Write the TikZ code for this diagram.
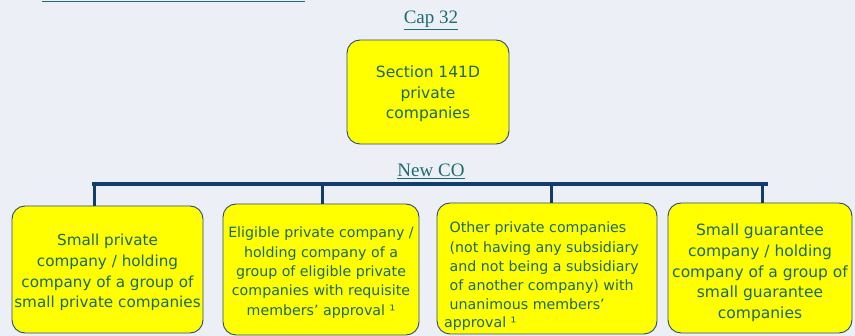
\documentclass[tikz,border=0pt]{standalone}
\usepackage{fontspec}
\setmainfont{DejaVu Sans}
\newfontfamily\serifface{Liberation Serif}
\definecolor{pagebg}{HTML}{ECF0F6}
\definecolor{boxfill}{HTML}{FFFF00}
\definecolor{boxedge}{HTML}{2B4A7A}
\definecolor{boxtext}{HTML}{1A6855}
\definecolor{headtext}{HTML}{1F6B70}
\definecolor{barnavy}{HTML}{123C6A}
\tikzset{
  px/.style={x=1pt,y=-1pt},
  catbox/.style={draw=boxedge, line width=0.9pt, fill=boxfill, rounded corners=13pt, inner sep=0pt},
  boxlabel/.style={text=boxtext, inner sep=0pt, align=center, font=\fontsize{15.2}{20.7}\selectfont},
  heading/.style={text=headtext, font=\serifface\fontsize{19}{21}\selectfont, inner sep=0pt},
  tree/.style={draw=barnavy, line width=3.5pt},
}
\begin{document}
\begin{tikzpicture}[px]
  \fill[pagebg] (0,0) rectangle (855,336);
  \useasboundingbox (0,0) rectangle (855,336);

  % underline of the cropped slide title
  \draw[headtext, line width=1pt] (42,1.2) coordinate (tl) -- (305,1.2) coordinate (tr);

  % headings
  \node[heading] (cap) at (431,20) {\underline{Cap 32}};
  \node[heading] (newco) at (431,171) {\underline{New CO}};

  % Cap 32 category
  \node[catbox, minimum width=162pt, minimum height=104pt] (top) at (428,92) {};
  \node[boxlabel, font=\fontsize{15.5}{20.5}\selectfont] (topt) at ([yshift=-2pt]top.center)
    {Section 141D\\private\\companies};

  % New CO categories
  \node[catbox, minimum width=191pt, minimum height=127pt] (b1) at (107.5,269.5) {};
  \node[boxlabel] (b1t) at ([yshift=-3pt]b1.center)
    {Small private\\company / holding\\company of a group of\\small private companies};

  \node[catbox, minimum width=196pt, minimum height=131pt] (b2) at (321,269.5) {};
  \node[boxlabel, font=\fontsize{14.2}{19.3}\selectfont] (b2t) at ([yshift=-3pt]b2.center)
    {Eligible private company /\\holding company of a\\group of eligible private\\companies with requisite\\members' approval ¹};

  \node[catbox, minimum width=220pt, minimum height=131pt] (b3) at (547,268.5) {};
  \node[boxlabel, align=left, anchor=west, font=\fontsize{14.2}{19.1}\selectfont] (b3t)
    at ([yshift=-8pt]b3.center -| 449.5,0)
    {Other private companies\\(not having any subsidiary\\and not being a subsidiary\\of another company) with\\unanimous members'\\[-0.5pt]\hspace*{-5.5pt}approval ¹};

  \node[catbox, minimum width=184pt, minimum height=130pt] (b4) at (760,268) {};
  \node[boxlabel, font=\fontsize{15.5}{20.7}\selectfont] (b4t) at ([yshift=-5pt]b4.center)
    {Small guarantee\\company / holding\\company of a group of\\small guarantee\\companies};

  % connector tree
  \coordinate (barL) at (94,184);
  \coordinate (barR) at (766,184);
  \coordinate (j2) at (322,184);
  \coordinate (j3) at (551,184);
  \coordinate (j4) at (762,184);
  \draw[tree, line cap=rect] (barL) -- (barR);
  \draw[tree, line width=3pt] (barL) -- (barL |- b1.north);
  \draw[tree, line width=3pt] (j2) -- (j2 |- b2.north);
  \draw[tree, line width=3pt] (j3) -- (j3 |- b3.north);
  \draw[tree, line width=3pt] (j4) -- (j4 |- b4.north);
\end{tikzpicture}
\end{document}
